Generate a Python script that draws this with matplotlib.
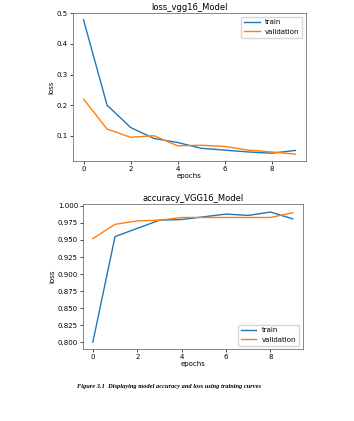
import matplotlib
matplotlib.use("Agg")
import matplotlib.pyplot as plt

epochs = list(range(10))

loss_train = [0.479, 0.200, 0.127, 0.091, 0.078, 0.059, 0.053, 0.047, 0.043, 0.052]
loss_val = [0.220, 0.122, 0.095, 0.100, 0.067, 0.069, 0.065, 0.053, 0.047, 0.040]

acc_train = [0.800, 0.955, 0.967, 0.979, 0.980, 0.984, 0.988, 0.986, 0.991, 0.981]
acc_val = [0.952, 0.973, 0.978, 0.979, 0.983, 0.983, 0.983, 0.983, 0.983, 0.990]

caption = "Figure 3.1  Displaying model accuracy and loss using training curves"

FS = 5
LW = 1.0

fig = plt.figure(figsize=(3.54, 4.21), dpi=100)


def style(ax):
    ax.tick_params(labelsize=FS, width=0.5, length=2, pad=1.5)
    for s in ax.spines.values():
        s.set_linewidth(0.5)
        s.set_color("0.35")


# ---- loss
ax = fig.add_axes([0.206, 0.618, 0.658, 0.351])
ax.plot(epochs, loss_train, lw=LW, label="train")
ax.plot(epochs, loss_val, lw=LW, label="validation")
ax.set_title("loss_vgg16_Model", fontsize=6, pad=2)
ax.set_xlabel("epochs", fontsize=FS, labelpad=1)
ax.set_ylabel("loss", fontsize=FS, labelpad=2)
ax.legend(loc="upper right", fontsize=FS, handlelength=2.2)
style(ax)

# ---- accuracy
ax = fig.add_axes([0.234, 0.171, 0.621, 0.344])
ax.plot(epochs, acc_train, lw=LW, label="train")
ax.plot(epochs, acc_val, lw=LW, label="validation")
ax.set_ylim(0.790, 1.0025)
ax.set_title("accuracy_VGG16_Model", fontsize=6, pad=2)
ax.set_xlabel("epochs", fontsize=FS, labelpad=1)
ax.set_ylabel("loss", fontsize=FS, labelpad=2)
ax.legend(loc="lower right", fontsize=FS, handlelength=2.2)
style(ax)

fig.text(0.477, 0.083, caption, ha="center", va="center", fontsize=4.6,
         family="Liberation Serif", style="italic", weight="bold")

fig.savefig("out.png", dpi=100)
